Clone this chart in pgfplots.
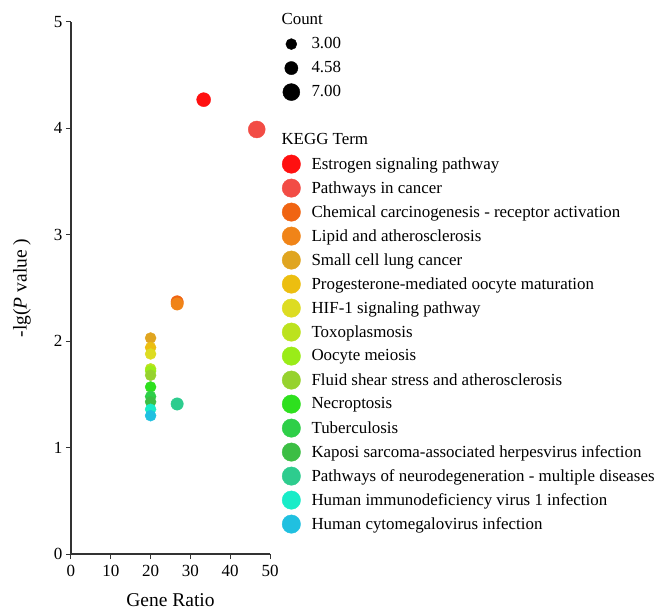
\documentclass[border=0pt]{standalone}
\usepackage{pgfplots}
\pgfplotsset{compat=1.18}
\usepackage{fontspec}
\setmainfont{Liberation Serif}
\definecolor{c1}{HTML}{FF1010}
\definecolor{c2}{HTML}{F24C45}
\definecolor{c3}{HTML}{F06412}
\definecolor{c4}{HTML}{F08418}
\definecolor{c5}{HTML}{E0A520}
\definecolor{c6}{HTML}{ECBE10}
\definecolor{c7}{HTML}{DDDC22}
\definecolor{c8}{HTML}{BCE21E}
\definecolor{c9}{HTML}{9AEC18}
\definecolor{c10}{HTML}{96D22E}
\definecolor{c11}{HTML}{2EE01E}
\definecolor{c12}{HTML}{2ECF48}
\definecolor{c13}{HTML}{3CBE44}
\definecolor{c14}{HTML}{2ECC8E}
\definecolor{c15}{HTML}{18ECC8}
\definecolor{c16}{HTML}{20C0E0}
\begin{document}
\begin{tikzpicture}
\path[use as bounding box] (-71pt,-59pt) rectangle (584pt,554pt);
\begin{axis}[
  at={(0,0)}, anchor=south west,
  scale only axis, width=199pt, height=532pt,
  xmin=0, xmax=50, ymin=0, ymax=5,
  axis x line*=bottom, axis y line*=left,
  axis line style={-, black!80, line width=1.2pt},
  xtick={0,10,20,30,40,50}, ytick={0,1,2,3,4,5},
  tick align=outside, major tick length=5pt,
  tick style={black!80, line width=1pt},
  /pgf/number format/assume math mode=true,
  ticklabel style={font=\fontsize{17}{17}\selectfont},
  xticklabel style={yshift=-3pt},
  every axis x label/.style={at={(axis description cs:0.5,0)}, anchor=center, yshift=-46pt},
  every axis y label/.style={at={(axis description cs:0,0.5)}, anchor=center, xshift=-49pt, rotate=90},
  label style={font=\fontsize{19.5}{19.5}\selectfont},
  xlabel={Gene Ratio},
  ylabel={-lg(\textit{P} value )},
  clip=false,
  kegg/.style={only marks, mark=*, legend image post style={mark size=9.2pt}},
  legend cell align=left,
  legend style={
    at={(axis description cs:1.060,1.022)}, anchor=north west,
    draw=none, fill=none, inner sep=0pt,
    font=\fontsize{16.9}{16.9}\selectfont,
    row sep=4.8pt,
    nodes={inner sep=0pt, minimum height=19.2pt},
    /tikz/every odd column/.append style={column sep=11pt},
  },
]
\addlegendimage{empty legend}\addlegendentry{\hspace*{-30pt}Count}
\addlegendimage{only marks, mark=*, black, mark size=5.5pt}\addlegendentry{3.00}
\addlegendimage{only marks, mark=*, black, mark size=6.6pt}\addlegendentry{4.58}
\addlegendimage{only marks, mark=*, black, mark size=8.5pt}\addlegendentry{7.00}
\addlegendimage{empty legend}\addlegendentry{}
\addlegendimage{empty legend}\addlegendentry{\hspace*{-30pt}KEGG Term}

\addplot[kegg, color=c1, mark size=7pt] coordinates {(33.33,4.27)};
\addlegendentry{Estrogen signaling pathway}
\addplot[kegg, color=c2, mark size=8.5pt] coordinates {(46.67,3.99)};
\addlegendentry{Pathways in cancer}
\addplot[kegg, color=c3, mark size=6.2pt] coordinates {(26.67,2.37)};
\addlegendentry{Chemical carcinogenesis - receptor activation}
\addplot[kegg, color=c4, mark size=6.2pt] coordinates {(26.67,2.35)};
\addlegendentry{Lipid and atherosclerosis}
\addplot[kegg, color=c5, mark size=5.5pt] coordinates {(20,2.03)};
\addlegendentry{Small cell lung cancer}
\addplot[kegg, color=c6, mark size=5.5pt] coordinates {(20,1.94)};
\addlegendentry{Progesterone-mediated oocyte maturation}
\addplot[kegg, color=c7, mark size=5.5pt] coordinates {(20,1.88)};
\addlegendentry{HIF-1 signaling pathway}
\addplot[kegg, color=c8, mark size=5.5pt] coordinates {(20,1.74)};
\addlegendentry{Toxoplasmosis}
\addplot[kegg, color=c9, mark size=5.5pt] coordinates {(20,1.72)};
\addlegendentry{Oocyte meiosis}
\addplot[kegg, color=c10, mark size=5.5pt] coordinates {(20,1.68)};
\addlegendentry{Fluid shear stress and atherosclerosis}
\addplot[kegg, color=c11, mark size=5.5pt] coordinates {(20,1.57)};
\addlegendentry{Necroptosis}
\addplot[kegg, color=c12, mark size=5.5pt] coordinates {(20,1.48)};
\addlegendentry{Tuberculosis}
\addplot[kegg, color=c13, mark size=5.5pt] coordinates {(20,1.43)};
\addlegendentry{Kaposi sarcoma-associated herpesvirus infection}
\addplot[kegg, color=c14, mark size=6.2pt] coordinates {(26.67,1.41)};
\addlegendentry{Pathways of neurodegeneration - multiple diseases}
\addplot[kegg, color=c15, mark size=5.5pt] coordinates {(20,1.36)};
\addlegendentry{Human immunodeficiency virus 1 infection}
\addplot[kegg, color=c16, mark size=5.5pt] coordinates {(20,1.30)};
\addlegendentry{Human cytomegalovirus infection}
\end{axis}
\end{tikzpicture}
\end{document}
